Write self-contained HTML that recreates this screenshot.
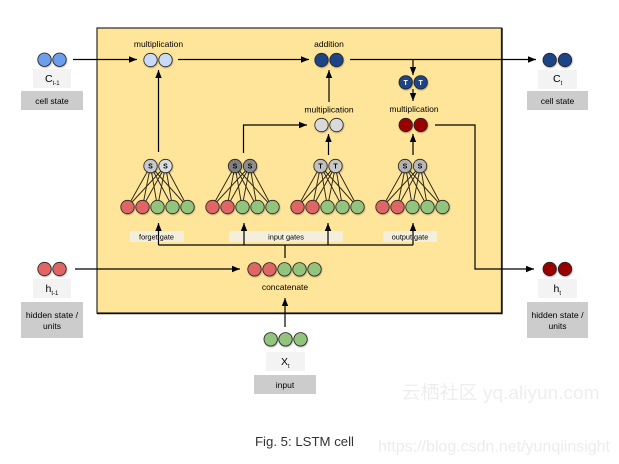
<!DOCTYPE html>
<html><head><meta charset="utf-8">
<style>
html,body{margin:0;padding:0;background:#fff;width:619px;height:464px;overflow:hidden}
svg{display:block}
text{font-family:"Liberation Sans","Noto Sans CJK SC",sans-serif;fill:#000}
</style></head>
<body>
<svg width="619" height="464" viewBox="0 0 619 464" xmlns="http://www.w3.org/2000/svg">
<defs>
<filter id="sh" x="-30%" y="-30%" width="170%" height="170%"><feDropShadow dx="0.5" dy="0.8" stdDeviation="0.7" flood-color="#000" flood-opacity="0.35"/></filter>
<filter id="soft" x="-5%" y="-5%" width="110%" height="110%"><feGaussianBlur stdDeviation="0.25"/></filter>
<filter id="soft2" x="-5%" y="-20%" width="110%" height="140%"><feGaussianBlur stdDeviation="0.3"/></filter>
<marker id="a" markerUnits="userSpaceOnUse" markerWidth="10" markerHeight="8" refX="8" refY="4" orient="auto"><path d="M0,0.8 L8,4 L0,7.2 Z" fill="#000"/></marker>
<g id="fan" stroke="#2a2818" stroke-width="0.95" fill="none">
<path d="M0,0 L-23,41 M0,0 L-8,41 M0,0 L7,41 M0,0 L22,41 M0,0 L37,41"/>
<path d="M15,0 L-23,41 M15,0 L-8,41 M15,0 L7,41 M15,0 L22,41 M15,0 L37,41"/>
</g>
<g id="five" stroke="#222" stroke-width="0.8" filter="url(#sh)">
<circle cx="-23" cy="41" r="6.7" fill="#e06666"/><circle cx="-8" cy="41" r="6.7" fill="#e06666"/>
<circle cx="7" cy="41" r="6.7" fill="#93c47d"/><circle cx="22" cy="41" r="6.7" fill="#93c47d"/><circle cx="37" cy="41" r="6.7" fill="#93c47d"/>
</g>
</defs>
<g filter="url(#soft)">
<rect x="97" y="28" width="404.5" height="285" fill="#ffe599" stroke="#3a382f" stroke-width="1.3"/>
<path d="M97,313.5 H502 V28" fill="none" stroke="#111" stroke-width="1.4"/>

<!-- left/right labels -->
<rect x="33" y="69" width="38" height="19" fill="#f3f3f3"/>
<rect x="21" y="91" width="62" height="19" fill="#cccccc"/>
<rect x="538" y="70" width="39" height="19" fill="#f3f3f3"/>
<rect x="527" y="91" width="61" height="19" fill="#cccccc"/>
<rect x="33" y="279" width="38" height="19" fill="#f3f3f3"/>
<rect x="21" y="302" width="62" height="36" fill="#cccccc"/>
<rect x="538" y="279" width="39" height="19" fill="#f3f3f3"/>
<rect x="527" y="302" width="61" height="36" fill="#cccccc"/>
<rect x="266" y="352" width="39" height="19" fill="#f3f3f3"/>
<rect x="254" y="375" width="62" height="19" fill="#cccccc"/>

<!-- gate labels -->
<rect x="130" y="231" width="54" height="11" fill="#f3efdc" />
<rect x="229" y="231" width="114" height="11" fill="#f3efdc"/>
<rect x="383" y="231" width="54" height="11" fill="#f3efdc"/>

<!-- fans -->
<use href="#fan" x="150.5" y="166"/><use href="#fan" x="235" y="166"/><use href="#fan" x="320.5" y="166"/><use href="#fan" x="405.5" y="166"/>
<use href="#five" x="150.5" y="166"/><use href="#five" x="235.5" y="166"/><use href="#five" x="320.5" y="166"/><use href="#five" x="405.5" y="166"/>

<!-- connectors -->
<g fill="none" stroke="#000" stroke-width="1.2">
<path d="M73,59.5 H137" marker-end="url(#a)"/>
<path d="M178,59.5 H309" marker-end="url(#a)"/>
<path d="M350,59.5 H536" marker-end="url(#a)"/>
<path d="M413,60 V75" marker-end="url(#a)"/>
<path d="M413,89 V101" marker-end="url(#a)"/>
<path d="M158.5,152 V70" marker-end="url(#a)"/>
<path d="M243.5,153 V125 H307" marker-end="url(#a)"/>
<path d="M329,102 V70" marker-end="url(#a)"/>
<path d="M328.5,155 V134" marker-end="url(#a)"/>
<path d="M413,155 V134" marker-end="url(#a)"/>
<path d="M435,125 H475 V269 H534" marker-end="url(#a)"/>
<path d="M75,269 H240" marker-end="url(#a)"/>
<path d="M285,327 V298" marker-end="url(#a)"/>
<path d="M285,258 V245"/>
<path d="M158.5,245 H413"/>
<path d="M158.5,245 V223" marker-end="url(#a)"/>
<path d="M244,245 V223" marker-end="url(#a)"/>
<path d="M328,245 V223" marker-end="url(#a)"/>
<path d="M413,245 V223" marker-end="url(#a)"/>
</g>

<!-- circles -->
<g stroke="#222" stroke-width="0.8" filter="url(#sh)">
<circle cx="44.5" cy="59.7" r="6.7" fill="#6d9eeb"/><circle cx="59.5" cy="59.7" r="6.7" fill="#6d9eeb"/>
<circle cx="150.5" cy="60" r="6.7" fill="#c9daf8"/><circle cx="165.5" cy="60" r="6.7" fill="#c9daf8"/>
<circle cx="321.5" cy="60" r="6.7" fill="#1c4587"/><circle cx="336.5" cy="60" r="6.7" fill="#1c4587"/>
<circle cx="549.7" cy="60" r="6.7" fill="#1c4587"/><circle cx="565" cy="60" r="6.7" fill="#1c4587"/>
<circle cx="405.7" cy="82.3" r="6.7" fill="#1c4587"/><circle cx="420.7" cy="82.3" r="6.7" fill="#1c4587"/>
<circle cx="321.5" cy="125" r="6.7" fill="#d9d9d9"/><circle cx="336.5" cy="125" r="6.7" fill="#d9d9d9"/>
<circle cx="405.7" cy="125" r="6.7" fill="#990000"/><circle cx="420.7" cy="125" r="6.7" fill="#990000"/>
<circle cx="150.5" cy="166" r="6.7" fill="#c5c8cc"/><circle cx="165.5" cy="166" r="6.7" fill="#d9dde2"/>
<circle cx="235" cy="166" r="6.7" fill="#808080"/><circle cx="250" cy="166" r="6.7" fill="#8c8c8c"/>
<circle cx="320.5" cy="166" r="6.7" fill="#c0c0c0"/><circle cx="335.5" cy="166" r="6.7" fill="#c8c8c8"/>
<circle cx="405" cy="166" r="6.7" fill="#b2b2b2"/><circle cx="420" cy="166" r="6.7" fill="#b7b7b7"/>
<circle cx="44.5" cy="269" r="6.7" fill="#e06666"/><circle cx="59.5" cy="269" r="6.7" fill="#e06666"/>
<circle cx="549.7" cy="269" r="6.7" fill="#990000"/><circle cx="565" cy="269" r="6.7" fill="#990000"/>
<circle cx="254.5" cy="269.3" r="6.7" fill="#e06666"/><circle cx="269.5" cy="269.3" r="6.7" fill="#e06666"/>
<circle cx="284.5" cy="269.3" r="6.7" fill="#93c47d"/><circle cx="299.5" cy="269.3" r="6.7" fill="#93c47d"/><circle cx="314.5" cy="269.3" r="6.7" fill="#93c47d"/>
<circle cx="270.7" cy="339.3" r="6.7" fill="#93c47d"/><circle cx="285.5" cy="339.3" r="6.7" fill="#93c47d"/><circle cx="300.5" cy="339.3" r="6.7" fill="#93c47d"/>
</g>

<!-- labels -->
<g font-size="8.5" text-anchor="middle">
<text x="158.5" y="47">multiplication</text>
<text x="329" y="47">addition</text>
<text x="329" y="112.5">multiplication</text>
<text x="414" y="112">multiplication</text>
<text x="285" y="290">concatenate</text>
<text x="52" y="104">cell state</text>
<text x="557.5" y="104">cell state</text>
<text x="52" y="318" font-size="8.7">hidden state /</text>
<text x="52" y="329">units</text>
<text x="557.5" y="318" font-size="8.7">hidden state /</text>
<text x="557.5" y="329">units</text>
<text x="285" y="388">input</text>
</g>
<g font-size="7.3" text-anchor="middle">
<text x="156.5" y="239.5">forget gate</text>
<text x="286" y="239.5">input gates</text>
<text x="410" y="239.5">output gate</text>
</g>
<g font-size="7" font-weight="bold" text-anchor="middle">
<text x="150.5" y="168.5">S</text><text x="165.5" y="168.5">S</text>
<text x="235" y="168.5">S</text><text x="250" y="168.5">S</text>
<text x="320.5" y="168.5">T</text><text x="335.5" y="168.5">T</text>
<text x="405" y="168.5">S</text><text x="420" y="168.5">S</text>
<text x="405.7" y="85" style="fill:#fff">T</text><text x="420.7" y="85" style="fill:#fff">T</text>
</g>
<g font-size="10.5">
<text x="45" y="82">C<tspan font-size="6" dy="3">t-1</tspan></text>
<text x="553" y="82">C<tspan font-size="6" dy="3">t</tspan></text>
<text x="45.5" y="292">h<tspan font-size="6" dy="3">t-1</tspan></text>
<text x="553.5" y="292">h<tspan font-size="6" dy="3">t</tspan></text>
<text x="281" y="365">X<tspan font-size="6" dy="3">t</tspan></text>
</g>
</g>

<g filter="url(#soft2)">
<text x="255" y="446" font-size="13" textLength="99" lengthAdjust="spacingAndGlyphs" style="fill:#333">Fig. 5: LSTM cell</text>
<text x="401.5" y="399" font-size="18.5" textLength="198" lengthAdjust="spacingAndGlyphs" style="fill:#eeeeee">云栖社区 yq.aliyun.com</text>
<text x="378" y="451.5" font-size="15.8" textLength="232" lengthAdjust="spacingAndGlyphs" style="fill:#ececec">https://blog.csdn.net/yunqiinsight</text>
</g>
</svg>
</body></html>
